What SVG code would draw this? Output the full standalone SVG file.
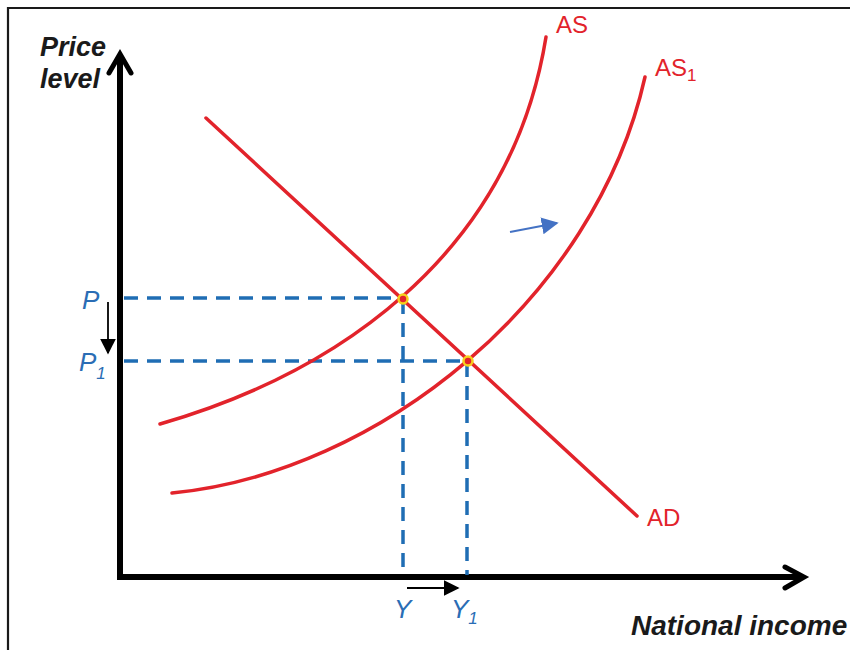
<svg xmlns="http://www.w3.org/2000/svg" width="850" height="650" viewBox="0 0 850 650">
<defs>
<style>
.frame{stroke:#1a1a1a;stroke-width:2.2;fill:none}
.axis{stroke:#000;stroke-width:6;fill:none;stroke-linecap:butt}
.chev{stroke:#000;stroke-width:5;fill:none;stroke-linecap:round;stroke-linejoin:miter}
.curve{stroke:#e2232b;stroke-width:3.5;fill:none;stroke-linecap:round}
.dash{stroke:#1f6db4;stroke-width:3.5;fill:none;stroke-dasharray:14 9}
.thin{stroke:#000;stroke-width:1.8;fill:none}
.axlab{font-family:"Liberation Sans",Arial,sans-serif;font-weight:bold;font-style:italic;font-size:27px;fill:#1a1a1a}
.big{font-size:28px}
.red{font-family:"Liberation Sans",Arial,sans-serif;font-size:24px;fill:#e2232b}
.blue{font-family:"Liberation Sans",Arial,sans-serif;font-style:italic;font-size:26px;fill:#2a6db5}
.sub{font-size:17px}
</style>
<marker id="blk" viewBox="0 0 10 10" refX="9" refY="5" markerWidth="16" markerHeight="16" markerUnits="userSpaceOnUse" orient="auto"><path d="M0,0 L10,5 L0,10 Z" fill="#000"/></marker>
<marker id="bluehead" viewBox="0 0 10 10" refX="9" refY="5" markerWidth="17" markerHeight="17" markerUnits="userSpaceOnUse" orient="auto"><path d="M0,0 L10,5 L0,10 Z" fill="#4472c4"/></marker>
</defs>
<rect width="850" height="650" fill="#fff"/>
<path class="frame" d="M8,650 L8,8 L850,8"/>
<g id="axes">
<line class="axis" x1="120" y1="580" x2="120" y2="55"/>
<line class="axis" x1="117" y1="577" x2="803" y2="577"/>
<path class="chev" d="M109,73 L120,54 L131,73"/>
<path class="chev" d="M785,567 L804,577 L785,588"/>
</g>
<g id="labels-axes">
<text class="axlab" x="40" y="56">Price</text>
<text class="axlab" x="40" y="88">level</text>
<text class="axlab big" x="631" y="635">National income</text>
</g>
<g id="connectors">
<line class="dash" x1="124" y1="298" x2="403" y2="298"/>
<line class="dash" x1="124" y1="361" x2="468" y2="361"/>
<line class="dash" x1="403" y1="300" x2="403" y2="575"/>
<line class="dash" x1="467" y1="363" x2="467" y2="575"/>
<line class="thin" x1="108" y1="302" x2="108" y2="353" marker-end="url(#blk)"/>
<line class="thin" x1="407" y1="588" x2="458" y2="588" marker-end="url(#blk)"/>
<line x1="510" y1="232" x2="557" y2="223" stroke="#4472c4" stroke-width="1.8" marker-end="url(#bluehead)"/>
</g>
<g id="AD">
<line class="curve" x1="206" y1="118" x2="637" y2="516"/>
<text class="red" x="647" y="526">AD</text>
</g>
<g id="AS">
<path class="curve" d="M160,424 C330,375 510,260 546,37"/>
<text class="red" x="556" y="33">AS</text>
</g>
<g id="AS1">
<path class="curve" d="M172,493 C378,473 595,300 645,77"/>
<text class="red" x="655" y="76">AS<tspan class="sub" dy="5">1</tspan></text>
</g>
<g id="E1">
<circle cx="403" cy="299" r="4.5" fill="#e2232b" stroke="#f7d01c" stroke-width="2.5"/>
</g>
<g id="E2">
<circle cx="468" cy="361" r="4.5" fill="#e2232b" stroke="#f7d01c" stroke-width="2.5"/>
</g>
<g id="price-labels">
<text class="blue" x="82" y="309">P</text>
<text class="blue" x="79" y="371">P<tspan class="sub" dy="8">1</tspan></text>
</g>
<g id="income-labels">
<text class="blue" x="394" y="618">Y</text>
<text class="blue" x="451" y="618">Y<tspan class="sub" dy="6">1</tspan></text>
</g>
</svg>
